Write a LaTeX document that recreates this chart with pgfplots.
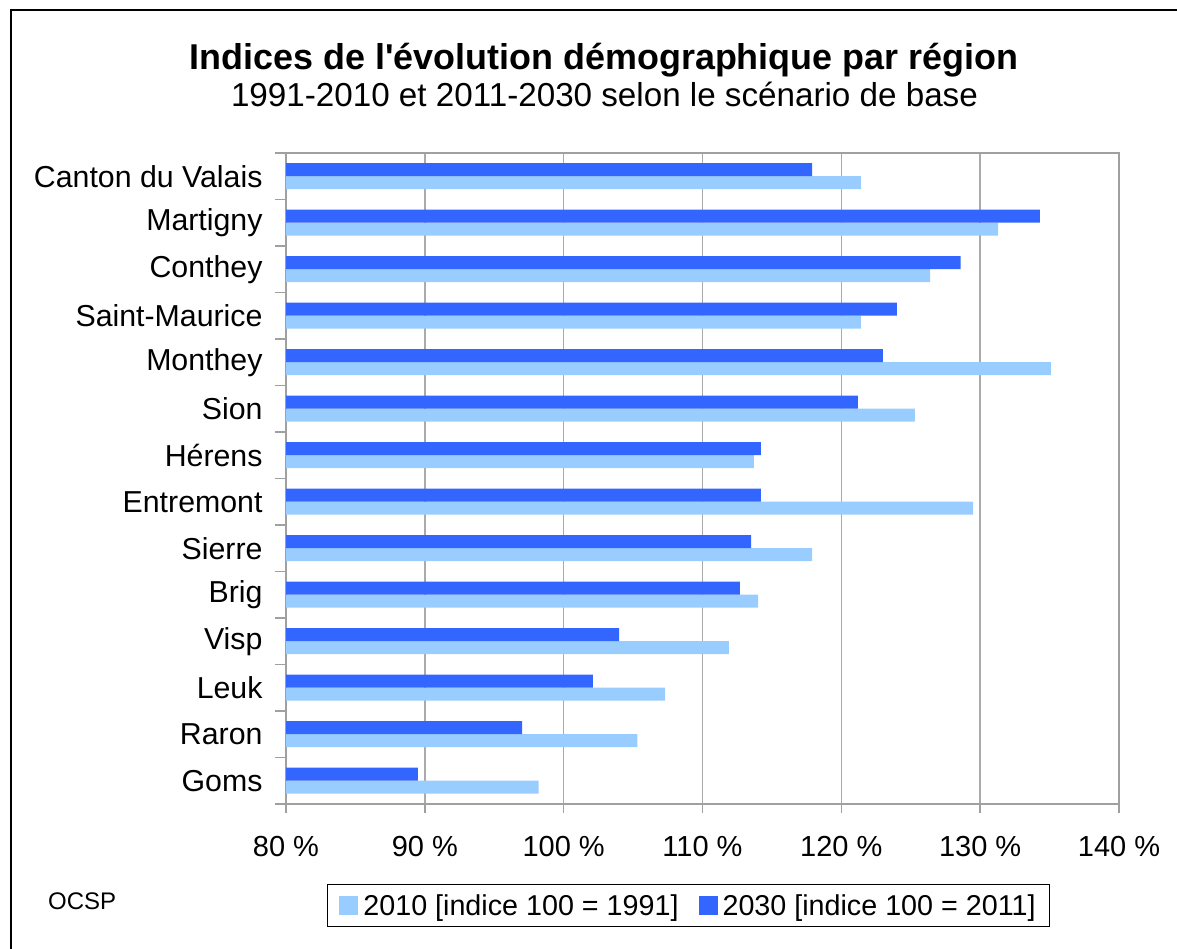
\documentclass[border=0pt]{standalone}
\usepackage{fontspec}
\setmainfont{Liberation Sans}[Ligatures=TeXOff]
\usepackage{pgfplots}
\usepackage{pgfplotstable}
\pgfplotsset{compat=1.18}
\definecolor{light}{HTML}{99CCFF}
\definecolor{dark}{HTML}{3366FF}
\definecolor{axgray}{HTML}{A0A0A0}
\pgfplotstableread{
y v2010 v2030
0 98.2 89.5
1 105.3 97.0
2 107.3 102.1
3 111.9 104.0
4 114.0 112.7
5 117.9 113.5
6 129.5 114.2
7 113.7 114.2
8 125.3 121.2
9 135.1 123.0
10 121.4 124.0
11 126.4 128.6
12 131.3 134.3
13 121.4 117.9
}\datatable
\begin{document}
\begin{tikzpicture}
\useasboundingbox (0pt,0pt) rectangle (1177pt,949pt);
\draw[line width=2pt] (11pt,-2pt) -- (11pt,939pt) -- (1180pt,939pt);
\node[anchor=base,font=\fontsize{35.9}{42}\selectfont\bfseries] at (604pt,879pt) {Indices de l'évolution démographique par région};
\node[anchor=base,font=\fontsize{33.2}{38}\selectfont] at (604.5pt,842pt) {1991-2010 et 2011-2030 selon le scénario de base};
\node[anchor=base west,font=\fontsize{24}{28}\selectfont,inner sep=0pt] at (48pt,39pt) {OCSP};
\begin{axis}[
  at={(286pt,145pt)}, anchor=south west,
  scale only axis, width=833pt, height=651pt,
  xbar, bar width=13pt,
  xmin=80, xmax=140, ymin=-0.5, ymax=13.5,
  xtick={80,90,...,140},
  xticklabels={80 \%,90 \%,100 \%,110 \%,120 \%,130 \%,140 \%},
  ytick={0,...,13},
  yticklabels={Goms,Raron,Leuk,Visp,Brig,Sierre,Entremont,Hérens,Sion,Monthey,Saint-Maurice,Conthey,Martigny,Canton du Valais},
  minor ytick={-0.5,0.5,...,13.5},
  tick align=outside, xtick pos=bottom, ytick pos=left,
  major tick length=9pt, minor tick length=11pt,
  ytick style={draw=none},
  minor y tick style={draw=axgray,line width=1.5pt},
  xtick style={draw=axgray,line width=1.5pt},
  xmajorgrids, major grid style={draw=axgray!90,line width=1.5pt},
  axis line style={draw=axgray,line width=2pt},
  xticklabel style={font=\fontsize{29}{34}\selectfont, yshift=-20pt},
  yticklabel style={font=\fontsize{30.3}{35}\selectfont, xshift=-11pt},
  legend columns=2,
  legend style={at={(axis description cs:0.4832,-0.1559)}, anchor=center,
    draw=black, line width=1pt, font=\fontsize{28.7}{34}\selectfont,
    inner xsep=12pt, inner ysep=8pt,
    /tikz/every odd column/.append style={column sep=3pt},
    /tikz/every even column/.append style={column sep=18pt}},
]
\addplot[fill=light, draw=none, bar shift=-6.5pt,
  legend image code/.code={\fill[light] (0pt,-10pt) rectangle (19pt,9pt);}]
  table[x=v2010,y=y] {\datatable};
\addplot[fill=dark, draw=none, bar shift=6.5pt,
  legend image code/.code={\fill[dark] (0pt,-10pt) rectangle (19pt,9pt);}]
  table[x=v2030,y=y] {\datatable};
\legend{2010 [indice 100 = 1991],2030 [indice 100 = 2011]}
\end{axis}
\end{tikzpicture}
\end{document}
